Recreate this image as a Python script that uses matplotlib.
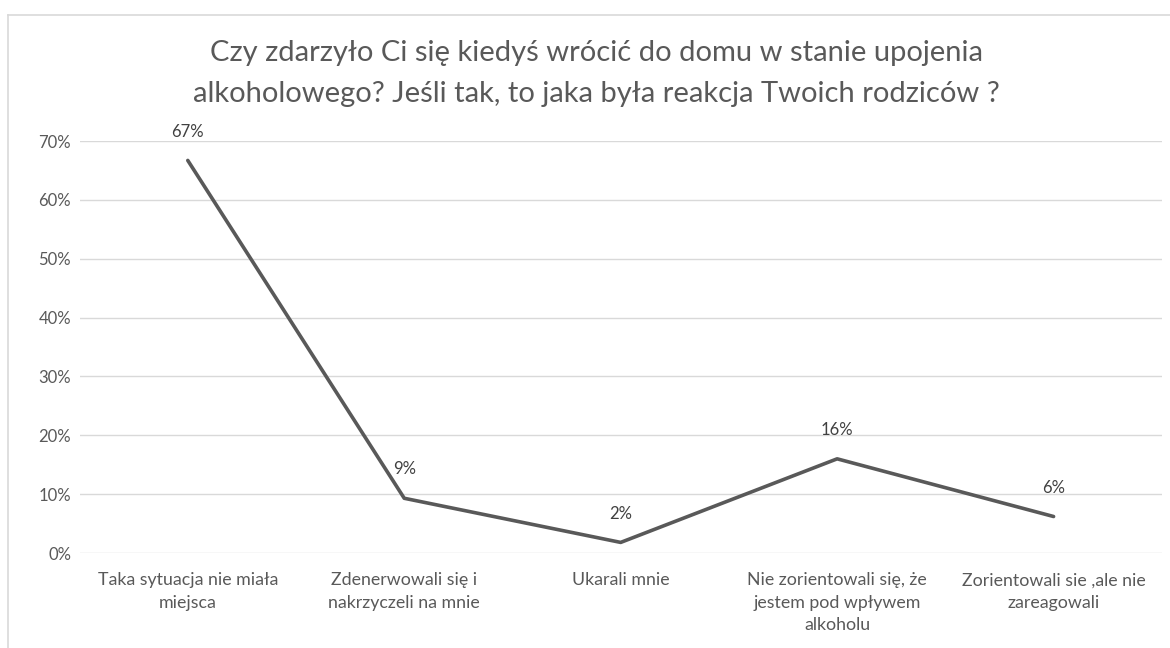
import matplotlib.pyplot as plt
from matplotlib.lines import Line2D
from matplotlib.ticker import PercentFormatter

# data
categories = [
    "Taka sytuacja nie miała\nmiejsca",
    "Zdenerwowali się i\nnakrzyczeli na mnie",
    "Ukarali mnie",
    "Nie zorientowali się, że\njestem pod wpływem\nalkoholu",
    "Zorientowali sie ,ale nie\nzareagowali",
]
values = [0.667, 0.093, 0.018, 0.160, 0.062]
labels = ["67%", "9%", "2%", "16%", "6%"]
y_ticks = [0, 0.1, 0.2, 0.3, 0.4, 0.5, 0.6, 0.7]

title = ("Czy zdarzyło Ci się kiedyś wrócić do domu w stanie upojenia\n"
         "alkoholowego? Jeśli tak, to jaka była reakcja Twoich rodziców ?")

plt.rcParams['font.family'] = ['Lato', 'DejaVu Sans']
text_col = "#595959"
grid_col = "#d9d9d9"

fig = plt.figure(figsize=(11.7, 6.48), dpi=100)
ax = fig.add_axes([0.068, 0.1466, 0.925, 0.6358])

x = list(range(len(categories)))
ax.plot(x, values, color="#595959", linewidth=2.6, solid_joinstyle="round",
        solid_capstyle="round", zorder=3)

for xi, v, lab in zip(x, values, labels):
    ax.annotate(lab, (xi, v), textcoords="offset points", xytext=(0, 15),
                ha="center", va="bottom", fontsize=12, color="#404040")

ax.set_xlim(-0.5, len(categories) - 0.5)
ax.set_ylim(0, 0.7)
ax.set_yticks(y_ticks)
ax.yaxis.set_major_formatter(PercentFormatter(1.0, decimals=0))
ax.set_xticks(x)
ax.set_xticklabels(categories, fontsize=12.8, color=text_col, linespacing=1.5)
ax.tick_params(axis="y", labelsize=12, labelcolor=text_col, length=0, pad=6)
ax.tick_params(axis="x", length=0, pad=14)
ax.grid(axis="y", color=grid_col, linewidth=1)
ax.set_axisbelow(True)
for s in ax.spines.values():
    s.set_visible(False)

fig.text(0.510, 0.939, title, ha="center", va="top", fontsize=21,
         color=text_col, linespacing=1.75)

# chart area border (only top and left edges visible in the crop)
fig.add_artist(Line2D([8 / 1170, 1.0], [1 - 15 / 648, 1 - 15 / 648],
                      transform=fig.transFigure, color=grid_col, linewidth=1.2))
fig.add_artist(Line2D([8 / 1170, 8 / 1170], [0, 1 - 15 / 648],
                      transform=fig.transFigure, color=grid_col, linewidth=1.2))

fig.savefig("out.png", dpi=100)
plt.close(fig)
